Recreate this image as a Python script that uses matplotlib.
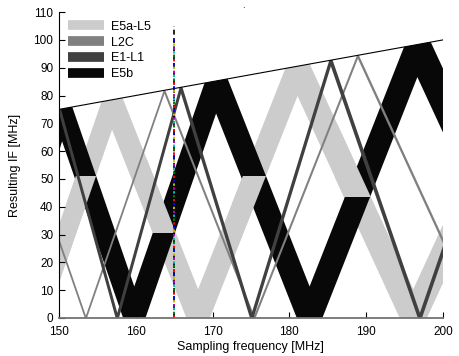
import numpy as np
import matplotlib
matplotlib.use('Agg')
import matplotlib.pyplot as plt
from matplotlib.patches import Polygon, Rectangle
from matplotlib.lines import Line2D

plt.rcParams['font.family'] = ['Liberation Sans', 'DejaVu Sans']

# fs/2 limit line
top_fs = [150, 200]
top_if = [75, 100]

# band centre lines (fold points) and bandwidths [MHz]
e5a_fs = [150, 156.86, 168.06, 181.0, 196.07, 200]
e5a_if = [23.6, 78.4, 0, 90.5, 0, 23.6]
e5a_bw = 21

l2c_fs = [150, 153.45, 163.68, 175.37, 188.86, 200]
l2c_if = [27.6, 0, 81.8, 0, 94.4, 27.6]
l2c_bw = 2

e1_fs = [150, 150.04, 157.54, 165.83, 175.05, 185.34, 196.93, 200]
e1_if = [74.6, 75.0, 0, 82.9, 0, 92.7, 0, 24.6]
e1_bw = 4

e5b_fs = [150, 150.35, 159.75, 170.4, 182.57, 196.6, 200]
e5b_if = [72.0, 75.2, 0, 85.2, 0, 98.3, 78.0]
e5b_bw = 23

names = ['E5a-L5', 'L2C', 'E1-L1', 'E5b']
colors = ['0.80', '0.50', '0.25', '0.03']

# chosen sampling frequency marker
sel_fs = 165
sel_top = 105
sel_dots_top = 100

fig = plt.figure(figsize=(4.6, 3.56), dpi=100)
ax = fig.add_axes([0.128, 0.107, 0.835, 0.859])

region = Polygon([(top_fs[0], 0), (top_fs[0], top_if[0]), (top_fs[1], top_if[1]), (top_fs[1], 0)],
                 closed=True, transform=ax.transData)


def band(fs, f_if, bw, color, z, clip=None):
    fs = np.array(fs)
    f_if = np.array(f_if)
    pc = ax.fill_between(fs, f_if - bw / 2, f_if + bw / 2, color=color, lw=0, zorder=z)
    pc.set_clip_path(region if clip is None else clip)
    return pc


band(e5a_fs, e5a_if, e5a_bw, colors[0], 1)
band(e5b_fs, e5b_if, e5b_bw, colors[3], 2)

# spots where the light band ends up drawn over the black one
over = [(151, 156, 0, 51), (161.5, 166, 31, 60), (172.5, 178, 0, 51), (186, 191.5, 44, 70)]
for x0, x1, y0, y1 in over:
    r = Rectangle((x0, y0), x1 - x0, y1 - y0, transform=ax.transData)
    band(e5a_fs, e5a_if, e5a_bw, colors[0], 3, clip=r)

band(l2c_fs, l2c_if, l2c_bw, colors[1], 4)
band(e1_fs, e1_if, e1_bw, colors[2], 5)

ax.plot(top_fs, top_if, color='k', lw=0.8, zorder=6)

# marker line at the chosen fs
ax.plot([sel_fs, sel_fs], [0, sel_top], color='k', lw=1.2, ls=(0, (3, 2)), zorder=7)
dot_colors = ['r', 'b', 'y', 'm', 'c', 'g']
for i, c in enumerate(dot_colors):
    ax.plot([sel_fs, sel_fs], [0, sel_dots_top], color=c, lw=1.4,
            ls=(i * 2.0, (1.2, 10.8)), zorder=8)

handles = [Line2D([0], [0], color=c, lw=7, solid_capstyle='butt') for c in colors]
ax.legend(handles, names, loc='upper left', frameon=False, fontsize=9,
          handlelength=2.9, handletextpad=0.6, labelspacing=0.3,
          bbox_to_anchor=(0.0, 1.0), borderaxespad=0.3)

ax.set_xlim(150, 200)
ax.set_ylim(0, 110)
ax.set_xticks(range(150, 201, 10))
ax.set_yticks(range(0, 111, 10))
ax.tick_params(direction='in', length=4, labelsize=8.5, width=0.8)
ax.tick_params(axis='x', pad=6)
ax.tick_params(axis='y', pad=4)
ax.spines['top'].set_visible(False)
ax.spines['right'].set_visible(False)
ax.spines['bottom'].set_color('0.45')
ax.spines['bottom'].set_linewidth(1.3)
ax.spines['left'].set_linewidth(0.8)
ax.spines['bottom'].set_zorder(9)
ax.spines['left'].set_zorder(9)

ax.set_xlabel('Sampling frequency [MHz]', fontsize=9, labelpad=2)
ax.set_ylabel('Resulting IF [MHz]', fontsize=9, labelpad=9)

fig.text(243 / 460, 1 - 8 / 356, '.', fontsize=7, ha='center')

fig.savefig('out.png', dpi=100)
